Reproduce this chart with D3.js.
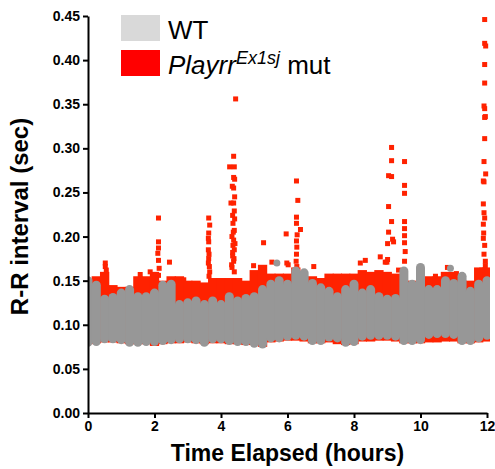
<!DOCTYPE html>
<html>
<head>
<meta charset="utf-8">
<script src="https://cdn.jsdelivr.net/npm/d3@7"></script>
<style>
  body { margin: 0; background: #fff; }
  text { font-family: "Liberation Sans", Arial, sans-serif; }
</style>
</head>
<body>
<div id="content"></div>
<script>
// data
// bins every 0.25 h: the dense band of each genotype (lowest / highest R-R value in the bin)
var binTime = [0, 0.25, 0.5, 0.75, 1, 1.25, 1.5, 1.75, 2, 2.25, 2.5, 2.75, 3, 3.25, 3.5, 3.75,
  4, 4.25, 4.5, 4.75, 5, 5.25, 5.5, 5.75, 6, 6.25, 6.5, 6.75, 7, 7.25, 7.5, 7.75,
  8, 8.25, 8.5, 8.75, 9, 9.25, 9.5, 9.75, 10, 10.25, 10.5, 10.75, 11, 11.25, 11.5, 11.75, 12];

var wtHigh = [0.155, 0.150, 0.134, 0.136, 0.141, 0.145, 0.137, 0.137, 0.141, 0.150, 0.151, 0.128, 0.130, 0.132, 0.128, 0.132,
  0.128, 0.137, 0.132, 0.135, 0.137, 0.145, 0.151, 0.155, 0.151, 0.166, 0.164, 0.152, 0.147, 0.143, 0.137, 0.145,
  0.151, 0.141, 0.145, 0.137, 0.134, 0.135, 0.166, 0.151, 0.170, 0.145, 0.145, 0.155, 0.152, 0.160, 0.143, 0.151, 0.155];
var wtLow = [0.075, 0.076, 0.079, 0.079, 0.078, 0.075, 0.075, 0.076, 0.076, 0.077, 0.078, 0.079, 0.079, 0.078, 0.075, 0.079,
  0.079, 0.077, 0.076, 0.076, 0.074, 0.073, 0.080, 0.080, 0.082, 0.083, 0.082, 0.077, 0.077, 0.081, 0.080, 0.075,
  0.076, 0.082, 0.083, 0.083, 0.083, 0.082, 0.077, 0.077, 0.078, 0.084, 0.085, 0.085, 0.084, 0.077, 0.077, 0.080, 0.083];

var mutHigh = [0.152, 0.155, 0.160, 0.145, 0.143, 0.143, 0.155, 0.155, 0.160, 0.150, 0.155, 0.155, 0.150, 0.150, 0.148, 0.153,
  0.153, 0.153, 0.153, 0.150, 0.162, 0.168, 0.158, 0.158, 0.158, 0.165, 0.152, 0.155, 0.153, 0.158, 0.158, 0.158,
  0.158, 0.162, 0.160, 0.162, 0.160, 0.158, 0.150, 0.150, 0.148, 0.155, 0.155, 0.160, 0.160, 0.150, 0.150, 0.165, 0.165];
var mutLow = [0.078, 0.079, 0.080, 0.080, 0.079, 0.078, 0.078, 0.078, 0.076, 0.078, 0.079, 0.079, 0.080, 0.079, 0.078, 0.079,
  0.079, 0.078, 0.078, 0.077, 0.077, 0.075, 0.080, 0.081, 0.082, 0.082, 0.081, 0.079, 0.079, 0.080, 0.078, 0.077,
  0.078, 0.081, 0.081, 0.082, 0.082, 0.081, 0.079, 0.079, 0.079, 0.080, 0.080, 0.081, 0.081, 0.079, 0.079, 0.080, 0.081];

// single mutant beats standing out of the band: [hours, sec]
var mutSpikes = [
  [0.52, 0.170], [0.52, 0.166], [0.55, 0.162], [1.57, 0.157], [1.87, 0.160],
  [2.12, 0.221], [2.12, 0.194], [2.12, 0.187], [2.10, 0.181], [2.12, 0.173], [2.14, 0.164], [2.12, 0.156],
  [2.45, 0.171], [2.88, 0.151],
  [3.63, 0.221], [3.66, 0.213], [3.63, 0.204], [3.62, 0.198], [3.63, 0.194], [3.62, 0.185], [3.64, 0.180],
  [3.63, 0.175], [3.62, 0.170], [3.65, 0.166], [3.66, 0.160], [3.64, 0.155],
  [4.44, 0.356], [4.38, 0.291], [4.40, 0.279], [4.26, 0.279], [4.38, 0.267], [4.41, 0.265], [4.34, 0.257],
  [4.38, 0.255], [4.41, 0.245], [4.30, 0.238], [4.38, 0.238], [4.40, 0.229], [4.35, 0.224], [4.41, 0.220],
  [4.36, 0.215], [4.40, 0.207], [4.37, 0.205], [4.33, 0.200], [4.38, 0.196], [4.42, 0.192], [4.36, 0.190],
  [4.40, 0.185], [4.35, 0.182], [4.35, 0.178], [4.39, 0.175], [4.38, 0.172], [4.32, 0.168], [4.33, 0.165], [4.40, 0.160],
  [4.98, 0.167], [5.28, 0.193], [5.53, 0.171], [5.96, 0.203], [5.98, 0.170], [6.02, 0.168],
  [6.27, 0.263], [6.31, 0.241], [6.27, 0.222], [6.27, 0.215], [6.39, 0.208], [6.29, 0.202], [6.27, 0.195],
  [6.28, 0.188], [6.27, 0.180], [6.26, 0.172], [6.28, 0.166], [6.79, 0.166],
  [8.19, 0.170], [8.34, 0.173], [8.79, 0.177], [8.94, 0.171], [8.99, 0.171],
  [9.13, 0.301], [9.13, 0.286], [9.13, 0.268], [9.04, 0.269], [9.04, 0.234], [9.13, 0.217], [9.04, 0.205],
  [9.16, 0.197], [9.01, 0.192], [9.19, 0.194], [9.01, 0.174], [9.34, 0.162],
  [9.52, 0.285], [9.52, 0.258], [9.52, 0.249], [9.52, 0.217], [9.52, 0.209], [9.52, 0.201], [9.52, 0.193],
  [9.54, 0.183], [9.52, 0.172],
  [10.45, 0.155], [10.81, 0.165], [11.08, 0.158],
  [11.93, 0.446], [11.93, 0.419], [11.96, 0.416], [11.93, 0.395], [11.93, 0.374], [11.91, 0.348], [11.93, 0.345],
  [11.95, 0.336], [11.93, 0.335], [11.93, 0.311], [11.91, 0.285], [11.96, 0.271], [11.89, 0.263], [11.91, 0.262],
  [11.89, 0.237], [11.91, 0.227], [11.93, 0.221], [11.89, 0.214], [11.90, 0.204], [11.89, 0.198], [11.93, 0.190],
  [11.91, 0.180], [11.95, 0.172], [11.95, 0.167], [11.84, 0.162]
];
// a few WT beats above the band
var wtSpikes = [[5.68, 0.170], [10.90, 0.164]];

var yTicks = [0, 0.05, 0.10, 0.15, 0.20, 0.25, 0.30, 0.35, 0.40, 0.45];
var xTicks = [0, 2, 4, 6, 8, 10, 12];
var legendLabels = ["WT", "Playrr", "Ex1sj", " mut"];

// set the dimensions and margins of the graph
var margin = { top: 16, right: 8, bottom: 56, left: 88 },
  width = 495 - margin.left - margin.right,
  height = 469 - margin.top - margin.bottom;

var x = d3.scaleLinear().domain([0, 12]).range([0, width]);
var y = d3.scaleLinear().domain([0, 0.45]).range([height, 0]);

var gray = "#979797", red = "#ff2200";

var svg = d3.select("#content").append("svg")
  .attr("width", 495)
  .attr("height", 469)
  .append("g")
  .attr("transform", "translate(" + margin.left + "," + margin.top + ")");

svg.append("clipPath").attr("id", "plotclip")
  .append("rect").attr("x", 0).attr("y", -5).attr("width", width + 3).attr("height", height + 5);

var bins = binTime.map(function(t, i) {
  return { t: t, wtLo: wtLow[i], wtHi: wtHigh[i], mutLo: mutLow[i], mutHi: mutHigh[i] };
});
var binW = x(0.25) - x(0);

var marks = svg.append("g").attr("clip-path", "url(#plotclip)");

// mutant band
marks.selectAll(".mutbin")
  .data(bins)
  .enter().append("rect")
  .attr("class", "mutbin")
  .attr("x", function(d) { return x(d.t) - binW / 2 - 0.5; })
  .attr("width", binW + 1)
  .attr("y", function(d) { return y(d.mutHi); })
  .attr("height", function(d) { return y(d.mutLo) - y(d.mutHi); })
  .attr("fill", red);

// mutant spikes
marks.selectAll(".mutpt")
  .data(mutSpikes)
  .enter().append("rect")
  .attr("class", "mutpt")
  .attr("x", function(d) { return x(d[0]) - 2.5; })
  .attr("y", function(d) { return y(d[1]) - 2.5; })
  .attr("width", 5)
  .attr("height", 5)
  .attr("fill", red);

// WT band, round caps give the bumpy edge
var r = 4.5;
marks.selectAll(".wtbin")
  .data(bins)
  .enter().append("line")
  .attr("class", "wtbin")
  .attr("x1", function(d) { return x(d.t); })
  .attr("x2", function(d) { return x(d.t); })
  .attr("y1", function(d) { return y(d.wtHi) + r; })
  .attr("y2", function(d) { return y(d.wtLo) - r; })
  .attr("stroke", gray)
  .attr("stroke-width", 2 * r)
  .attr("stroke-linecap", "round");

marks.selectAll(".wtpt")
  .data(wtSpikes)
  .enter().append("circle")
  .attr("class", "wtpt")
  .attr("cx", function(d) { return x(d[0]); })
  .attr("cy", function(d) { return y(d[1]); })
  .attr("r", 3.5)
  .attr("fill", gray);

// Add the X Axis
var xAxis = svg.append("g")
  .attr("transform", "translate(0," + height + ")")
  .call(d3.axisBottom(x).tickValues(xTicks).tickSize(5).tickSizeOuter(0).tickPadding(3));

// Add the Y Axis
var yAxis = svg.append("g")
  .call(d3.axisLeft(y).tickValues(yTicks).tickFormat(d3.format(".2f")).tickSize(5).tickSizeOuter(0).tickPadding(3));

[xAxis, yAxis].forEach(function(a) {
  a.select(".domain").attr("stroke", "#000").attr("stroke-width", 2);
  a.selectAll(".tick line").attr("stroke", "#000").attr("stroke-width", 2);
  a.selectAll(".tick text")
    .attr("fill", "#000")
    .style("font-family", "'Liberation Sans', Arial, sans-serif")
    .style("font-size", "14px")
    .style("font-weight", "bold");
});

// axis titles
svg.append("text")
  .attr("x", width / 2)
  .attr("y", height + 48)
  .attr("text-anchor", "middle")
  .style("font-size", "23px")
  .style("font-weight", "bold")
  .text("Time Elapsed (hours)");

svg.append("text")
  .attr("transform", "translate(" + (-60) + "," + (height / 2 + 2) + ") rotate(-90)")
  .attr("text-anchor", "middle")
  .style("font-size", "24px")
  .style("font-weight", "bold")
  .text("R-R interval (sec)");

// legend
var legend = svg.append("g").attr("transform", "translate(33,-1)");
legend.append("rect").attr("x", 0).attr("y", 0).attr("width", 39).attr("height", 26).attr("fill", "#d9d9d9");
legend.append("rect").attr("x", 0).attr("y", 35).attr("width", 39).attr("height", 26).attr("fill", "#ff0000");
legend.append("text")
  .attr("x", 47).attr("y", 24)
  .style("font-size", "26px")
  .text(legendLabels[0]);
var mutLabel = legend.append("text")
  .attr("x", 47).attr("y", 59)
  .style("font-size", "26px");
mutLabel.append("tspan").style("font-style", "italic").text(legendLabels[1]);
mutLabel.append("tspan").style("font-style", "italic").style("font-size", "18px")
  .attr("dy", -10).text(legendLabels[2]);
mutLabel.append("tspan").attr("dy", 10).text(legendLabels[3]);
</script>
</body>
</html>
